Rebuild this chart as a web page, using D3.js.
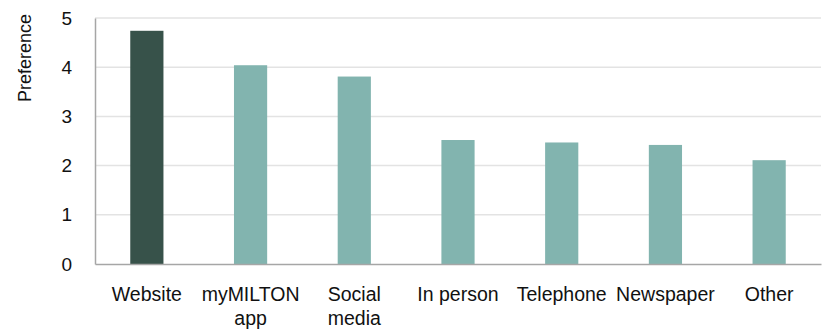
<!DOCTYPE html>
<html>
<head>
<meta charset="utf-8">
<script src="https://cdn.jsdelivr.net/npm/d3@7"></script>
<style>
  html, body { margin: 0; padding: 0; background: #fff; }
  svg { display: block; font-family: "Liberation Sans", Arial, sans-serif; }
</style>
</head>
<body>
<svg id="chart" width="827" height="334"></svg>
<script>
// Preference score by contact channel
const categories = ["Website", "myMILTON app", "Social media", "In person", "Telephone", "Newspaper", "Other"];
const preference = [4.74, 4.04, 3.81, 2.52, 2.47, 2.42, 2.11];
const yTicks = [0, 1, 2, 3, 4, 5];
const yLabel = "Preference";

const svg = d3.select("#chart");
const margin = { top: 18, right: 6, bottom: 70, left: 95 };
const W = 827, H = 334;

const x = d3.scaleBand()
  .domain(categories)
  .range([margin.left, W - margin.right])
  .paddingInner(0.68)
  .paddingOuter(0.34);

const y = d3.scaleLinear()
  .domain([0, 5])
  .range([H - margin.bottom, margin.top]);

// horizontal gridlines
svg.append("g")
  .selectAll("line")
  .data(yTicks.filter(d => d > 0))
  .join("line")
  .attr("x1", margin.left)
  .attr("x2", W - margin.right)
  .attr("y1", d => y(d))
  .attr("y2", d => y(d))
  .attr("stroke", "#e3e3e3")
  .attr("stroke-width", 1.5);

// bars
svg.append("g")
  .selectAll("rect")
  .data(categories)
  .join("rect")
  .attr("x", d => x(d))
  .attr("width", x.bandwidth())
  .attr("y", (d, i) => y(preference[i]))
  .attr("height", (d, i) => y(0) - y(preference[i]))
  .attr("fill", (d, i) => i === 0 ? "#37524a" : "#82b4af");

// y axis
const yAxis = svg.append("g")
  .attr("transform", `translate(${margin.left},0)`)
  .call(d3.axisLeft(y).tickValues(yTicks).tickSize(0).tickPadding(23).tickFormat(d3.format("d")));
yAxis.select(".domain").attr("stroke", "#a6a6a6").attr("stroke-width", 1.5);
yAxis.selectAll("text")
  .attr("font-size", 19)
  .attr("fill", "#111")
  .style("font-family", "Liberation Sans, Arial, sans-serif");

// x axis
const xAxis = svg.append("g")
  .attr("transform", `translate(0,${y(0)})`)
  .call(d3.axisBottom(x).tickSize(0).tickPadding(23));
xAxis.select(".domain").attr("stroke", "#a6a6a6").attr("stroke-width", 1.5);
xAxis.selectAll("text")
  .attr("font-size", 19.5)
  .attr("fill", "#111")
  .style("font-family", "Liberation Sans, Arial, sans-serif")
  .each(function (d) {
    const t = d3.select(this);
    const words = d.split(" ");
    t.text(null);
    let line = [];
    let tspan = t.append("tspan").attr("x", 0).attr("dy", "0.71em");
    for (const w of words) {
      line.push(w);
      tspan.text(line.join(" "));
      if (tspan.node().getComputedTextLength() > x.step() && line.length > 1) {
        line.pop();
        tspan.text(line.join(" "));
        line = [w];
        tspan = t.append("tspan").attr("x", 0).attr("dy", "1.25em").text(w);
      }
    }
  });

// y axis title
svg.append("text")
  .attr("transform", "translate(31,58) rotate(-90)")
  .attr("text-anchor", "middle")
  .attr("font-size", 18)
  .attr("fill", "#111")
  .text(yLabel);
</script>
</body>
</html>
